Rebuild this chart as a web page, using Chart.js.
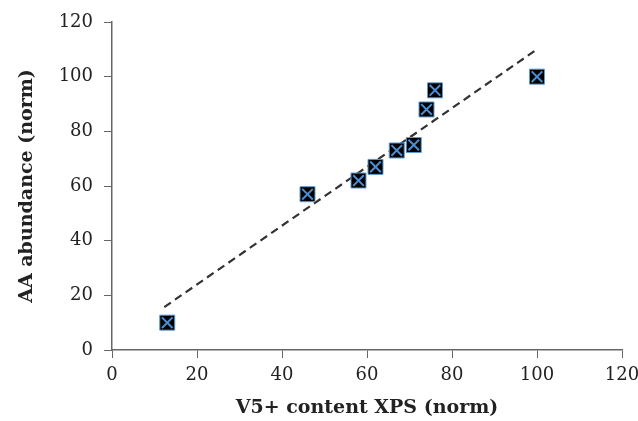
<!DOCTYPE html>
<html lang="en">
<head>
    <meta charset="UTF-8">
    <title>AA abundance vs V5+ content</title>
    <script src="https://cdn.jsdelivr.net/npm/chart.js"></script>
    <style>
        body {
            margin: 0;
            background-color: #fff;
        }

        .chart-container {
            width: 638px;
            height: 421px;
        }
    </style>
</head>
<body>

    <div class="chart-container">
        <canvas id="scatterChart"></canvas>
    </div>

    <script>
        // measured points
        const v5Content = [13, 46, 58, 62, 67, 71, 74, 76, 100];
        const aaAbundance = [10, 57, 62, 67, 73, 75, 88, 95, 100];

        // linear fit, drawn as dashed line
        const trendX = [12.3, 100];
        const trendY = [15.7, 110];

        const xTicks = [0, 20, 40, 60, 80, 100, 120];
        const yTicks = [0, 20, 40, 60, 80, 100, 120];

        const points = v5Content.map((x, i) => ({ x: x, y: aaAbundance[i] }));
        const trend = trendX.map((x, i) => ({ x: x, y: trendY[i] }));

        const ctx = document.getElementById('scatterChart').getContext('2d');

        const axisColor = '#666';
        const tickFont = { family: 'DejaVu Serif', size: 18 };
        const titleFont = { family: 'DejaVu Serif', size: 19, weight: 'bold' };

        new Chart(ctx, {
            type: 'scatter',
            data: {
                datasets: [
                    {
                        label: 'marker cross',
                        data: points,
                        pointStyle: 'crossRot',
                        pointRadius: 7.5,
                        borderColor: '#4a8fd6',
                        borderWidth: 2,
                        order: 1
                    },
                    {
                        label: 'marker box',
                        data: points,
                        pointStyle: 'rect',
                        pointRadius: 10.6,
                        backgroundColor: '#000',
                        borderColor: '#5b9bd5',
                        borderWidth: 1,
                        order: 2
                    },
                    {
                        label: 'fit',
                        data: trend,
                        showLine: true,
                        pointRadius: 0,
                        borderColor: '#333',
                        borderWidth: 2.2,
                        borderDash: [8, 5],
                        order: 3
                    }
                ]
            },
            options: {
                responsive: true,
                maintainAspectRatio: false,
                animation: false,
                layout: {
                    padding: { top: 22, right: 16, left: 0, bottom: 0 }
                },
                plugins: {
                    legend: { display: false },
                    tooltip: { enabled: false }
                },
                scales: {
                    x: {
                        type: 'linear',
                        min: 0,
                        max: 120,
                        afterBuildTicks: (scale) => {
                            scale.ticks = xTicks.map(v => ({ value: v }));
                        },
                        afterFit: (scale) => {
                            scale.height = 71;
                            scale.paddingRight = 0;
                        },
                        grid: {
                            drawOnChartArea: false,
                            drawTicks: true,
                            tickLength: 8,
                            color: axisColor
                        },
                        border: { color: axisColor, width: 1.5 },
                        ticks: {
                            font: tickFont,
                            color: '#222',
                            padding: 7
                        },
                        title: {
                            display: true,
                            text: 'V5+ content XPS (norm)',
                            font: titleFont,
                            color: '#222',
                            padding: { top: 0, bottom: 2 }
                        }
                    },
                    y: {
                        type: 'linear',
                        min: 0,
                        max: 120,
                        afterBuildTicks: (scale) => {
                            scale.ticks = yTicks.map(v => ({ value: v }));
                        },
                        afterFit: (scale) => {
                            scale.width = 112;
                        },
                        grid: {
                            drawOnChartArea: false,
                            drawTicks: true,
                            tickLength: 8,
                            color: axisColor
                        },
                        border: { color: axisColor, width: 1.5 },
                        ticks: {
                            font: tickFont,
                            color: '#222',
                            padding: 11
                        },
                        title: {
                            display: true,
                            text: 'AA abundance (norm)',
                            font: titleFont,
                            color: '#222',
                            padding: { top: 16, bottom: 0 }
                        }
                    }
                }
            }
        });
    </script>

</body>
</html>
